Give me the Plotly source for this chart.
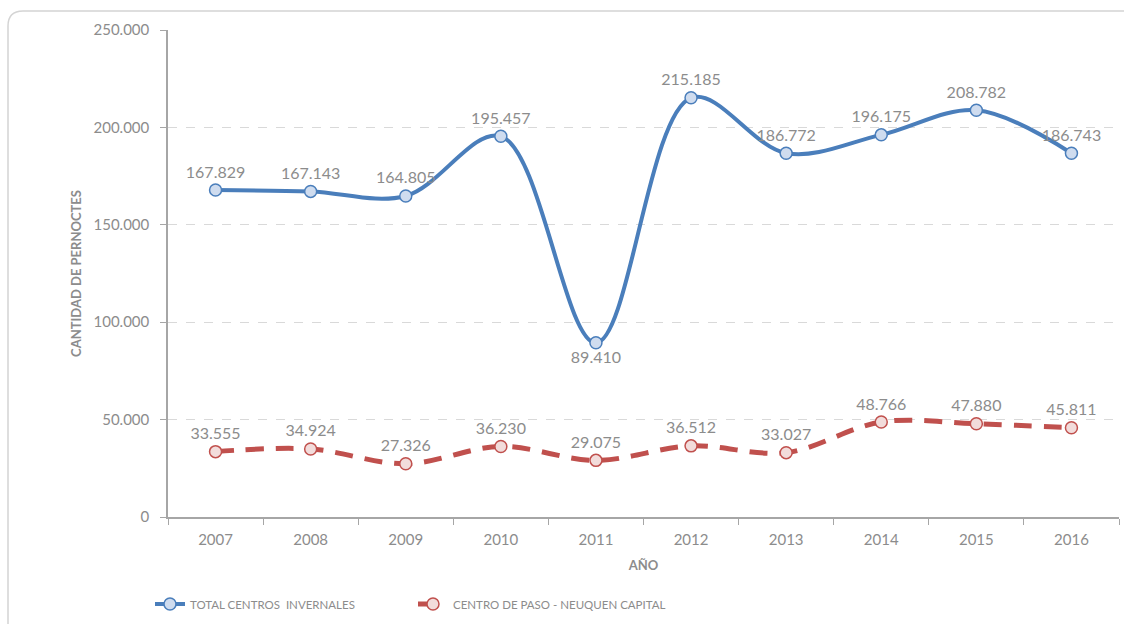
import plotly.graph_objects as go

years = ["2007", "2008", "2009", "2010", "2011", "2012", "2013", "2014", "2015", "2016"]
total_centros = [167829, 167143, 164805, 195457, 89410, 215185, 186772, 196175, 208782, 186743]
centro_paso = [33555, 34924, 27326, 36230, 29075, 36512, 33027, 48766, 47880, 45811]

name_total = "TOTAL CENTROS  INVERNALES"
name_paso = "CENTRO DE PASO - NEUQUEN CAPITAL"

W, H = 1124, 624
L, R, T, B = 168, 1119, 30, 517

def xp(px):
    return (px - L) / (R - L)

def yp(py):
    return (B - py) / (B - T)

gray = "#8c8c8c"
font_family = "Lato, 'Open Sans', sans-serif"

total_pos = ["bottom center" if v < 100000 else "top center" for v in total_centros]

fig = go.Figure()
fig.add_trace(go.Scatter(
    x=years, y=total_centros, name=name_total,
    mode="lines+markers+text",
    line=dict(color="#4a7ebb", width=4, shape="spline", smoothing=1.0),
    marker=dict(symbol="circle", size=12, color="#cfdcef", line=dict(color="#4a7ebb", width=1.5)),
    text=[f"{v:,}".replace(",", ".") for v in total_centros],
    textposition=total_pos,
    textfont=dict(size=16, color=gray, family=font_family),
    cliponaxis=False,
))
fig.add_trace(go.Scatter(
    x=years, y=centro_paso, name=name_paso,
    mode="lines+markers+text",
    line=dict(color="#c0504d", width=5, shape="spline", smoothing=1.0, dash="18px,12px"),
    marker=dict(symbol="circle", size=12, color="#f2dcdb", line=dict(color="#c0504d", width=1.5)),
    text=[f"{v:,}".replace(",", ".") for v in centro_paso],
    textposition="top center",
    textfont=dict(size=16, color=gray, family=font_family),
    cliponaxis=False,
))

card = (f"M {xp(8)},{yp(640)} L {xp(8)},{yp(26)} Q {xp(8)},{yp(11)} {xp(23)},{yp(11)} "
        f"L {xp(1140)},{yp(11)}")

fig.update_layout(
    width=W, height=H,
    margin=dict(l=L, r=W - R, t=T, b=H - B),
    paper_bgcolor="white", plot_bgcolor="white",
    separators=",.",
    font=dict(family=font_family, color=gray),
    showlegend=True,
    legend=dict(orientation="h", x=xp(150), y=yp(604), xanchor="left", yanchor="middle",
                font=dict(size=11.5, color=gray, family=font_family),
                entrywidth=218, entrywidthmode="pixels", itemwidth=30,
                bgcolor="rgba(0,0,0,0)"),
    shapes=[dict(type="path", path=card, xref="paper", yref="paper",
                 line=dict(color="#d4d4d4", width=1.5), layer="below")],
    xaxis=dict(
        type="category", range=[-0.5, 9.5],
        showline=True, linecolor="#a6a6a6", linewidth=1.5,
        ticks="outside", tickson="boundaries", ticklen=6, tickcolor="#a6a6a6",
        showgrid=False, ticklabelstandoff=8,
        tickfont=dict(size=15, color=gray, family=font_family),
        title=dict(text="<b>AÑO</b>", font=dict(size=13, color=gray, family=font_family), standoff=14),
    ),
    yaxis=dict(
        range=[0, 250000], tickvals=[0, 50000, 100000, 150000, 200000, 250000],
        tickformat=",d",
        showline=True, linecolor="#a6a6a6", linewidth=1.5,
        ticks="outside", ticklen=6, tickcolor="#a6a6a6",
        showgrid=True, gridcolor="#d9d9d9", griddash="dash", gridwidth=1,
        zeroline=False, ticklabelstandoff=8,
        tickfont=dict(size=15, color=gray, family=font_family),
        title=dict(text="<b>CANTIDAD DE PERNOCTES</b>", font=dict(size=13, color=gray, family=font_family), standoff=9),
    ),
)

fig.write_html("out.html", config={"displayModeBar": False},
               post_script="document.body.style.margin='0';document.documentElement.style.overflow='hidden';")
